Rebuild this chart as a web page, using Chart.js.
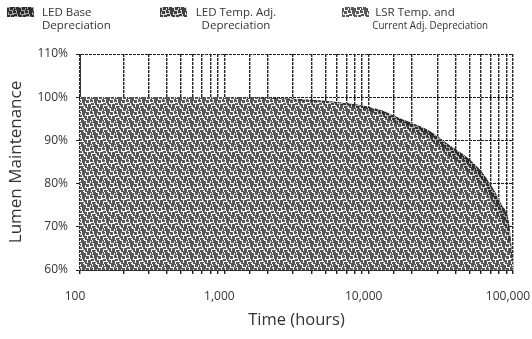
<!DOCTYPE html>
<html><head><meta charset="utf-8">
<script src="https://cdn.jsdelivr.net/npm/chart.js@4.4.0/dist/chart.umd.min.js"></script>
<style>
html,body{margin:0;padding:0;background:#fff;}
#wrap{position:relative;width:532px;height:339px;overflow:hidden;}
canvas{position:absolute;left:0;top:0;}
.lg{position:absolute;font-family:"Open Sans",sans-serif;font-size:11.5px;line-height:13px;color:#333;white-space:nowrap;}
.sw{position:absolute;width:27px;height:10px;}
.sq{display:inline-block;transform:scaleX(0.85);transform-origin:center;}
</style></head><body>
<div id="wrap"><canvas id="c" width="532" height="339"></canvas><div id="legend"></div></div>
<script>
// ---- data ----
const hours = [100, 1000, 2000, 3300, 5000, 7300, 10000, 12400, 16300, 20000, 26200, 36000, 47300, 61000, 71400, 83800, 93300, 100000];
const ledBase =            [100, 100, 99.9, 99.6, 99.2, 98.6, 97.8, 96.9, 95.2, 94.0, 92.3, 89.0, 86.3, 82.7, 79.3, 75.0, 71.5, 62.0];
const ledTempAdj =         [100, 100, 99.8, 99.4, 98.9, 98.2, 97.3, 96.3, 94.4, 93.1, 91.2, 87.7, 84.8, 81.0, 77.3, 72.8, 69.0, 61.0];
const lsrTempCurrentAdj =  [100, 100, 99.7, 99.2, 98.6, 97.8, 96.7, 95.6, 93.6, 92.1, 90.1, 86.4, 83.2, 79.2, 75.2, 70.5, 66.5, 60.0];
const seriesNames = [["LED Base", "Depreciation"], ["LED Temp. Adj.", "Depreciation"], ["LSR Temp. and", "Current Adj. Depreciation"]];
const xTickLabels = {100: "100", 1000: "1,000", 10000: "10,000", 100000: "100,000"};
const yTickValues = [60, 70, 80, 90, 100, 110];

// ---- hatch patterns ----
const TILE = ["...#####.###","##.###.#.###","##.###.#####","##....##..##","#####.###.##","#.###.###.##",
              "#.###.....##","#......###.#","###.######.#","###.###.....",".##.###.####",".######.###."];
function tileCanvas(dark, light){
  const n=TILE.length;
  const t=document.createElement('canvas'); t.width=n; t.height=n;
  const g=t.getContext('2d'); g.fillStyle=light; g.fillRect(0,0,n,n); g.fillStyle=dark;
  TILE.forEach((row,y)=>[...row].forEach((ch,x)=>{ if(ch==='#') g.fillRect(x,y,1,1); }));
  return t;
}
const tiles=[tileCanvas('#2c2c2c','#a4a4a4'), tileCanvas('#404040','#d4d4d4'), tileCanvas('#585858','#fafafa')];
const ctx=document.getElementById('c').getContext('2d');
const pats=tiles.map(t=>ctx.createPattern(t,'repeat'));

// ---- HTML legend ----
const lg=document.getElementById('legend');
const lgPos=[{sx:7,tx:42,align:'left',w:80},{sx:160,tx:190,align:'center',w:92},{sx:342,tx:362,align:'center',w:106}];
seriesNames.forEach((n,i)=>{
  const sw=document.createElement('div'); sw.className='sw';
  sw.style.left=lgPos[i].sx+'px'; sw.style.top='7px';
  sw.style.backgroundImage='url('+tiles[i].toDataURL()+')';
  lg.appendChild(sw);
  const tx=document.createElement('div'); tx.className='lg';
  tx.style.left=lgPos[i].tx+'px'; tx.style.top='5px'; tx.style.textAlign=lgPos[i].align; tx.style.width=lgPos[i].w+'px';
  tx.innerHTML=n[0]+'<br>'+(i===2?'<span class="sq">'+n[1]+'</span>':n[1]);
  lg.appendChild(tx);
});

const FONT='"Open Sans", sans-serif';
const series=[ledBase, ledTempAdj, lsrTempCurrentAdj];
new Chart(ctx,{
  type:'line',
  data:{datasets: series.map((s,i)=>({
    label: seriesNames[i].join(' '),
    data: hours.map((h,j)=>({x:h,y:s[j]})),
    fill:'start', backgroundColor:pats[i], borderWidth:0, borderColor:'rgba(0,0,0,0)',
    pointRadius:0, cubicInterpolationMode:'monotone', order:3-i
  }))},
  options:{
    responsive:false, animation:false,
    layout:{padding:{top:54,right:19,left:0,bottom:0}},
    plugins:{legend:{display:false}, tooltip:{enabled:false}},
    scales:{
      x:{type:'logarithmic', min:100, max:100000,
        ticks:{autoSkip:false, maxRotation:0, padding:15, labelOffset:-5, color:'#333', font:{family:FONT,size:12},
          callback:(v)=>xTickLabels[Math.round(v)] ?? ''},
        grid:{color:'#222', lineWidth:1.4, tickLength:4},
        border:{display:true, color:'#333', dash:[3,1]},
        title:{display:true, text:'Time (hours)', color:'#333', font:{family:FONT,size:16.5}, padding:{top:0,bottom:9}},
        afterFit:(s)=>{s.height=69; s.paddingLeft=0; s.paddingRight=0;}
      },
      y:{min:60, max:110,
        afterBuildTicks:(s)=>{s.ticks=yTickValues.map(v=>({value:v}));},
        ticks:{padding:8, color:'#333', font:{family:FONT,size:12}, callback:(v)=>v+'%'},
        grid:{color:'#222', lineWidth:1, tickLength:4},
        border:{display:true, color:'#333', dash:[3,1]},
        title:{display:true, text:'Lumen Maintenance', color:'#333', font:{family:FONT,size:17}, padding:{top:6,bottom:0}},
        afterFit:(s)=>{s.width=80;}
      }
    }
  }
});
</script>
</body></html>
